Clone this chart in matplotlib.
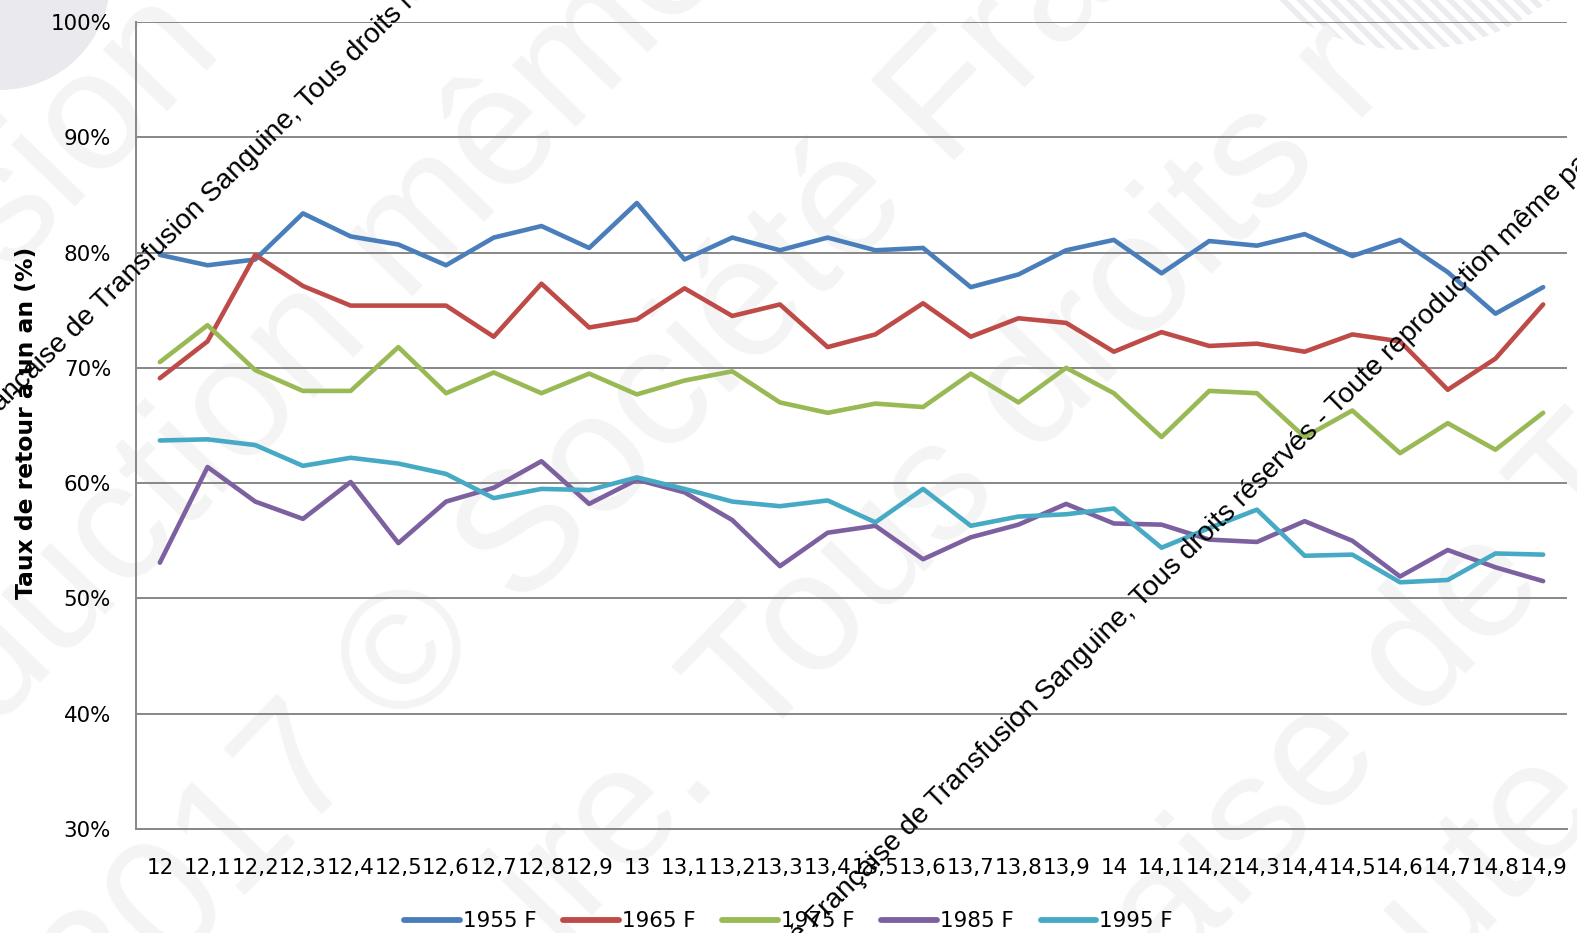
import matplotlib
matplotlib.use("Agg")
import matplotlib.pyplot as plt
from matplotlib.patches import Circle

# ages (années) shown on the category axis
ages = ["12", "12,1", "12,2", "12,3", "12,4", "12,5", "12,6", "12,7", "12,8", "12,9",
        "13", "13,1", "13,2", "13,3", "13,4", "13,5", "13,6", "13,7", "13,8", "13,9",
        "14", "14,1", "14,2", "14,3", "14,4", "14,5", "14,6", "14,7", "14,8", "14,9"]

f1955 = [79.8, 78.9, 79.4, 83.4, 81.4, 80.7, 78.9, 81.3, 82.3, 80.4,
         84.3, 79.4, 81.3, 80.2, 81.3, 80.2, 80.4, 77.0, 78.1, 80.2,
         81.1, 78.2, 81.0, 80.6, 81.6, 79.7, 81.1, 78.3, 74.7, 77.0]
f1965 = [69.1, 72.3, 79.8, 77.1, 75.4, 75.4, 75.4, 72.7, 77.3, 73.5,
         74.2, 76.9, 74.5, 75.5, 71.8, 72.9, 75.6, 72.7, 74.3, 73.9,
         71.4, 73.1, 71.9, 72.1, 71.4, 72.9, 72.3, 68.1, 70.8, 75.5]
f1975 = [70.5, 73.7, 69.8, 68.0, 68.0, 71.8, 67.8, 69.6, 67.8, 69.5,
         67.7, 68.9, 69.7, 67.0, 66.1, 66.9, 66.6, 69.5, 67.0, 70.0,
         67.8, 64.0, 68.0, 67.8, 64.0, 66.3, 62.6, 65.2, 62.9, 66.1]
f1985 = [53.1, 61.4, 58.4, 56.9, 60.1, 54.8, 58.4, 59.6, 61.9, 58.2,
         60.3, 59.2, 56.8, 52.8, 55.7, 56.3, 53.4, 55.3, 56.4, 58.2,
         56.5, 56.4, 55.1, 54.9, 56.7, 55.0, 51.9, 54.2, 52.7, 51.5]
f1995 = [63.7, 63.8, 63.3, 61.5, 62.2, 61.7, 60.8, 58.7, 59.5, 59.4,
         60.5, 59.5, 58.4, 58.0, 58.5, 56.6, 59.5, 56.3, 57.1, 57.3,
         57.8, 54.4, 56.1, 57.7, 53.7, 53.8, 51.4, 51.6, 53.9, 53.8]

series = [("1955 F", f1955, "#4a7ebb"),
          ("1965 F", f1965, "#be4b48"),
          ("1975 F", f1975, "#98b954"),
          ("1985 F", f1985, "#7d60a0"),
          ("1995 F", f1995, "#46aac5")]

y_ticks = [30, 40, 50, 60, 70, 80, 90, 100]

notice = ("Société Française de Transfusion Sanguine, Tous droits réservés - "
          "Toute reproduction même partielle interdite")
# faint background watermark fragments (text, centre x px, centre y px)
watermark = [("sion", 85, 130),
             ("Reproduction même", 170, 484),
             ("2017 © Société Fra", 582, 483),
             ("ire. Tous droits r", 945, 488),
             ("Française de Transfusion", 1498, 577),
             ("oute", 1457, 893)]

W, H = 1577, 933
fig = plt.figure(figsize=(W / 100, H / 100), dpi=100)

# background layer in pixel coordinates
bg = fig.add_axes([0, 0, 1, 1], zorder=-1)
bg.set_xlim(0, W)
bg.set_ylim(H, 0)
bg.axis("off")
bg.add_patch(Circle((0, -20), 110, facecolor="#e9e9ee", edgecolor="none"))
plt.rcParams["hatch.linewidth"] = 4
bg.add_patch(Circle((1410, -170), 220, facecolor="none", edgecolor="#ebebf0",
                    linewidth=0, hatch="\\\\"))
for txt, cx, cy in watermark:
    bg.text(cx, cy, txt, rotation=46, rotation_mode="anchor", ha="center", va="center",
            fontsize=122, color="#f4f4f4", family="Liberation Sans")

ax = fig.add_axes([136 / W, 1 - 829 / H, 1431 / W, 807 / H])
ax.patch.set_alpha(0)

x = list(range(len(ages)))
for name, vals, col in series:
    ax.plot(x, vals, color=col, lw=3.3, label=name,
            solid_joinstyle="round", solid_capstyle="round")

ax.set_xlim(-0.5, len(ages) - 0.5)
ax.set_ylim(30, 100)
ax.set_yticks(y_ticks)
ax.set_yticklabels([f"{v}%" for v in y_ticks])
ax.set_xticks(x)
ax.set_xticklabels(ages)
ax.tick_params(axis="both", length=0, labelsize=15.4, colors="black")
ax.tick_params(axis="x", pad=21)
ax.tick_params(axis="y", pad=18)
ax.grid(axis="y", color="#878787", lw=1.4)
ax.set_axisbelow(True)
for s in ["top", "right"]:
    ax.spines[s].set_visible(False)
for s in ["left", "bottom"]:
    ax.spines[s].set_color("#878787")
    ax.spines[s].set_linewidth(1.4)

fig.text(0.017, 1 - 423 / H, "Taux de retour à un an (%)", rotation=90,
         ha="center", va="center", fontsize=16.9, fontweight="bold")

leg = fig.legend(loc="center", bbox_to_anchor=(0.5, 1 - 921 / H), ncol=5, frameon=False,
                 fontsize=15.4, handlelength=2.6, handletextpad=0.15, columnspacing=1.25)
for h in leg.legend_handles:
    h.set_linewidth(4.2)

# black diagonal copyright notices on top
for sx, sy in [(-90, 502), (744, 1000)]:
    fig.text(sx, sy, notice, transform=bg.transData, rotation=44.6, rotation_mode="anchor",
             ha="left", va="baseline", fontsize=20.2, color="black",
             family="Liberation Sans", zorder=10)

fig.savefig("out.png", dpi=100)
